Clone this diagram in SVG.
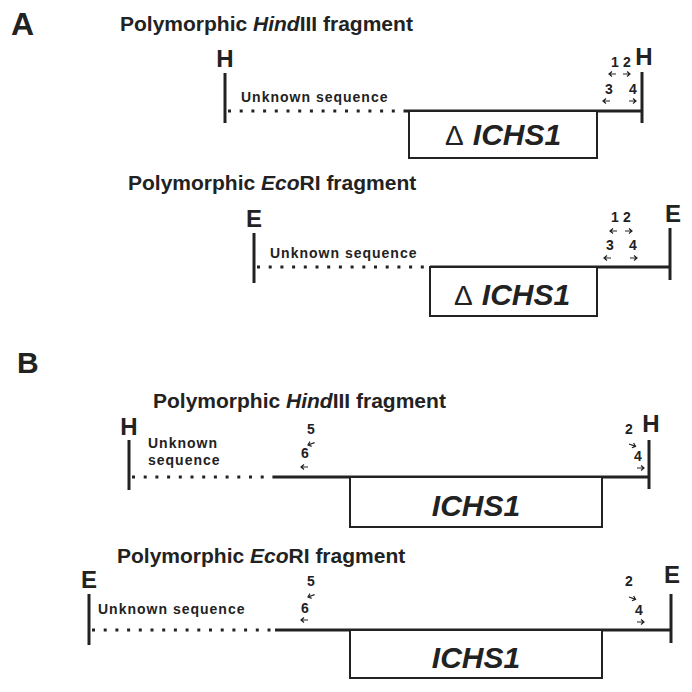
<svg xmlns="http://www.w3.org/2000/svg" width="692" height="692" viewBox="0 0 692 692">
<defs>
<style>
text{font-family:"Liberation Sans",Arial,sans-serif;fill:#222;font-weight:bold}
.panel{font-size:32px}
.title{font-size:21px}
.site{font-size:24px;text-anchor:middle}
.unk{font-size:14px;letter-spacing:1px}
.num{font-size:14px}
.gene{font-size:30px;font-style:italic;text-anchor:middle}
.delta{font-size:28px;font-weight:normal}
.line{stroke:#222;stroke-width:3;fill:none}
.dot{stroke:#222;stroke-width:3;fill:none;stroke-dasharray:3 8.7}
.box{stroke:#222;stroke-width:2;fill:#fff}
.arr{stroke:#222;stroke-width:1.2;fill:none}
</style>
<path id="al" class="arr" d="M0,0 H7 M3,-2.5 L0,0 L3,2.5"/>
<path id="ar" class="arr" d="M0,0 H7 M4,-2.5 L7,0 L4,2.5"/>
</defs>
<rect width="692" height="692" fill="#fff"/>
<text class="panel" x="11" y="35">A</text>
<text class="panel" x="17" y="373" style="font-size:30px">B</text>

<g id="connectors">
<line class="line" x1="225" y1="73" x2="225" y2="123"/>
<line class="dot" x1="228" y1="111" x2="405" y2="111"/>
<line class="line" x1="405" y1="111" x2="642" y2="111"/>
<line class="line" x1="642" y1="72" x2="642" y2="123"/>

<line class="line" x1="254" y1="233" x2="254" y2="283"/>
<line class="dot" x1="257" y1="267" x2="430" y2="267"/>
<line class="line" x1="430" y1="267" x2="670" y2="267"/>
<line class="line" x1="670" y1="228" x2="670" y2="280"/>

<line class="line" x1="129" y1="440" x2="129" y2="490"/>
<line class="dot" x1="132" y1="477" x2="275" y2="477"/>
<line class="line" x1="275" y1="477" x2="649" y2="477"/>
<line class="line" x1="649" y1="440" x2="649" y2="489"/>

<line class="line" x1="89" y1="594" x2="89" y2="645"/>
<line class="dot" x1="92" y1="630" x2="275" y2="630"/>
<line class="line" x1="275" y1="630" x2="671" y2="630"/>
<line class="line" x1="671" y1="594" x2="671" y2="643"/>
</g>

<g id="fragA1">
<text class="title" x="120" y="31">Polymorphic <tspan font-style="italic">Hind</tspan>III fragment</text>
<text class="site" x="225" y="67">H</text>
<text class="site" x="644" y="65">H</text>
<text class="unk" x="241" y="102">Unknown sequence</text>
<rect class="box" x="409" y="111" width="188" height="47"/>
<text class="delta" x="445" y="145">Δ</text>
<text class="gene" x="517" y="145">ICHS1</text>
<text class="num" x="611" y="67">1</text><text class="num" x="623" y="67">2</text>
<use href="#al" x="609" y="74"/><use href="#ar" x="623" y="74"/>
<text class="num" x="605" y="94">3</text><text class="num" x="629" y="94">4</text>
<use href="#al" x="603" y="101"/><use href="#ar" x="629" y="101"/>
</g>

<g id="fragA2">
<text class="title" x="128" y="190">Polymorphic <tspan font-style="italic">Eco</tspan>RI fragment</text>
<text class="site" x="254" y="227">E</text>
<text class="site" x="673" y="222">E</text>
<text class="unk" x="270" y="258">Unknown sequence</text>
<rect class="box" x="430" y="267" width="167" height="49"/>
<text class="delta" x="454" y="305">Δ</text>
<text class="gene" x="526" y="305">ICHS1</text>
<text class="num" x="611" y="222">1</text><text class="num" x="623" y="222">2</text>
<use href="#al" x="610" y="231"/><use href="#ar" x="625" y="231"/>
<text class="num" x="606" y="250">3</text><text class="num" x="629" y="250">4</text>
<use href="#al" x="604" y="258"/><use href="#ar" x="630" y="258"/>
</g>

<g id="fragB1">
<text class="title" x="153" y="408">Polymorphic <tspan font-style="italic">Hind</tspan>III fragment</text>
<text class="site" x="129" y="435">H</text>
<text class="site" x="651" y="432">H</text>
<text class="unk" x="148" y="448">Unknown</text>
<text class="unk" x="148" y="465">sequence</text>
<rect class="box" x="350" y="477" width="252" height="50"/>
<text class="gene" x="476" y="516">ICHS1</text>
<text class="num" x="307" y="434">5</text>
<use href="#al" transform="translate(308,445) rotate(-20)"/>
<text class="num" x="301" y="458">6</text>
<use href="#al" x="301" y="467"/>
<text class="num" x="625" y="434">2</text>
<use href="#ar" transform="translate(629,444) rotate(20)"/>
<text class="num" x="634" y="461">4</text>
<use href="#ar" x="637" y="468"/>
</g>

<g id="fragB2">
<text class="title" x="117" y="563">Polymorphic <tspan font-style="italic">Eco</tspan>RI fragment</text>
<text class="site" x="89" y="588">E</text>
<text class="site" x="672" y="583">E</text>
<text class="unk" x="98" y="614">Unknown sequence</text>
<rect class="box" x="350" y="630" width="252" height="48"/>
<text class="gene" x="476" y="668">ICHS1</text>
<text class="num" x="307" y="586">5</text>
<use href="#al" transform="translate(308,597) rotate(-20)"/>
<text class="num" x="301" y="613">6</text>
<use href="#al" x="301" y="620"/>
<text class="num" x="625" y="586">2</text>
<use href="#ar" transform="translate(629,597) rotate(20)"/>
<text class="num" x="635" y="615">4</text>
<use href="#ar" x="637" y="622"/>
</g>
</svg>
